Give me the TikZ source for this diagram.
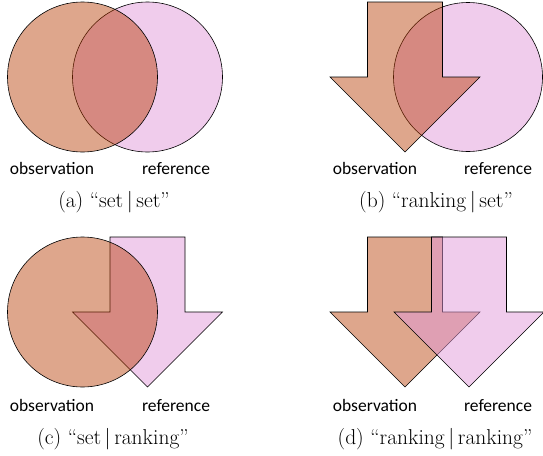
\documentclass[tikz,border=0pt]{standalone}
\usepackage{fontspec}
\newfontfamily\lblfont{Carlito}
\usepackage{tikz}
\usetikzlibrary{calc}

\begin{document}
\begin{tikzpicture}[x=1pt,y=-1pt,
  obsfill/.style={fill={rgb,255:red,182;green,58;blue,0},fill opacity=0.45,draw=black,line width=0.6pt},
  reffill/.style={fill={rgb,255:red,225;green,153;blue,217},fill opacity=0.5,draw=black,line width=0.6pt},
  lbl/.style={font=\lblfont\fontsize{17.5}{20}\selectfont,anchor=base},
  capt/.style={font=\fontsize{21.5}{24}\selectfont,anchor=base},
  rankarrow/.pic={
    \path[pic actions] (-37.5,0) -- (37.5,0) -- (37.5,75) -- (75,75) -- (0,150)
      -- (-75,75) -- (-37.5,75) -- cycle;
  }]
\useasboundingbox (0,0) rectangle (543,455);

% (a) set | set
\draw[reffill] (147.5,77) circle[radius=75];
\draw[obsfill] (82.5,77) circle[radius=75];
\node[lbl] (obsA) at (52,174) {observation};
\node[lbl] (refA) at (176,174) {reference};
\node[capt] (capA) at (114,207) {(a) “set\,|\,set”};

% (b) ranking | set
\draw[reffill] (468,77) circle[radius=74.5];
\pic[obsfill] at (405,2) {rankarrow};
\node[lbl] (obsB) at (375,174) {observation};
\node[lbl] (refB) at (498,174) {reference};
\node[capt] (capB) at (436,207) {(b) “ranking\,|\,set”};

% (c) set | ranking
\pic[reffill] at (147.5,237) {rankarrow};
\draw[obsfill] (82.5,312) circle[radius=75];
\node[lbl] (obsC) at (52,411) {observation};
\node[lbl] (refC) at (176,411) {reference};
\node[capt] (capC) at (113,444) {(c) “set\,|\,ranking”};

% (d) ranking | ranking
\pic[obsfill] at (405,237) {rankarrow};
\pic[reffill] at (469,237) {rankarrow};
\node[lbl] (obsD) at (375,411) {observation};
\node[lbl] (refD) at (498,411) {reference};
\node[capt] (capD) at (435,444) {(d) “ranking\,|\,ranking”};
\end{tikzpicture}
\end{document}
